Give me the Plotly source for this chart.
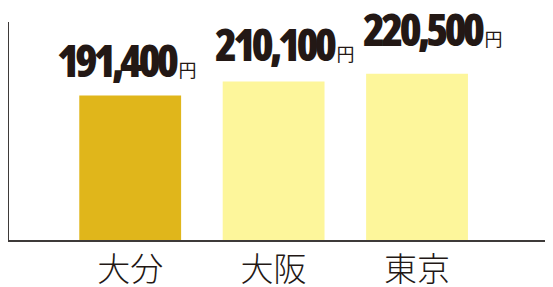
import plotly.graph_objects as go

categories = ["大分", "大阪", "東京"]
values = [191400, 210100, 220500]
value_labels = ["191,400", "210,100", "220,500"]
bar_colors = ["#E0B61B", "#FDF69B", "#FDF69B"]

TEXT = "#231815"
label_xshift = [-3, 11, 16]
label_yshift = [4, 6, 13]

fig = go.Figure()
fig.add_trace(go.Bar(
    x=list(range(len(categories))), y=values,
    marker=dict(color=bar_colors, line=dict(width=0)),
    width=0.71, hoverinfo="skip",
))

for i, (v, lab) in enumerate(zip(values, value_labels)):
    fig.add_annotation(
        x=i, y=v, xref="x", yref="y",
        text=(f"<span style='font-stretch:75%;letter-spacing:-4px;font-weight:800'>{lab}</span>"
              f"<span style='font-size:18px;font-family:Noto Sans CJK JP'>\u2009円</span>"),
        showarrow=False, xanchor="center", yanchor="bottom",
        xshift=label_xshift[i], yshift=label_yshift[i],
        font=dict(family="Open Sans", size=45, color=TEXT),
    )

# page body has an 8px default margin, so the figure is sized/offset accordingly
fig.update_layout(
    width=545, height=279,
    margin=dict(l=1, r=0, t=14, b=47),
    paper_bgcolor="white", plot_bgcolor="white",
    showlegend=False,
    xaxis=dict(
        range=[-0.845, 2.948], automargin=False,
        tickmode="array", tickvals=list(range(len(categories))), ticktext=categories,
        showline=True, linecolor="#3E3A39", linewidth=1.5,
        showgrid=False, zeroline=False, ticks="",
        tickfont=dict(family="Noto Sans CJK JP", size=33, color=TEXT, weight=300),
        ticklabelstandoff=0,
    ),
    yaxis=dict(
        range=[0, 289000], automargin=False,
        showline=True, linecolor="#3E3A39", linewidth=1.5,
        showgrid=False, zeroline=False, showticklabels=False, ticks="",
    ),
)

fig.write_html("out.html")
